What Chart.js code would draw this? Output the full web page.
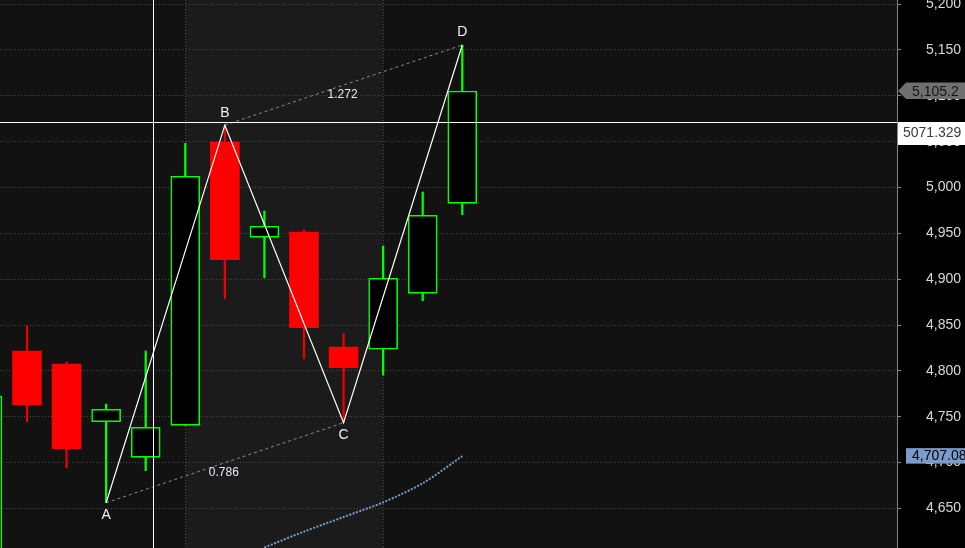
<!DOCTYPE html>
<html><head><meta charset="utf-8">
<script src="https://cdn.jsdelivr.net/npm/chart.js@4.4.0/dist/chart.umd.min.js"></script>
<style>html,body{margin:0;padding:0;background:#000;overflow:hidden}#wrap{width:965px;height:548px;position:relative}</style>
</head><body><div id="wrap"><canvas id="c" width="965" height="548"></canvas></div>
<script>
// ---- data ----
const candleIndex = [0, 1, 2, 3, 4, 5, 6, 7, 8, 9, 10, 11, 12];
const opens  = [4580, 4821.7, 4807.5, 4744.6, 4705.8, 4740.7, 5049.6, 4945.7, 4951.5, 4826.0, 4823.6, 4884.6, 4982.8];
const highs  = [4780, 4849.0, 4809.7, 4763.9, 4821.7, 5048.2, 5068.0, 4974.4, 4953.7, 4840.6, 4936.2, 4995.1, 5155.4];
const lows   = [4570, 4744.6, 4694.4, 4656.3, 4691.2, 4740.7, 4878.7, 4901.6, 4813.3, 4743.5, 4795.5, 4876.6, 4970.3];
const closes = [4772.6, 4762.8, 4715.2, 4758.1, 4738.5, 5012.2, 4921.3, 4957.7, 4847.1, 4803.5, 4901.0, 4969.7, 5105.2];

const patternLetters = ['A', 'B', 'C', 'D'];
const patternIndex   = [3, 6, 9, 12];
const patternPrice   = [4656.3, 5068.0, 4743.5, 5155.4];
const ratioLabels    = ['0.786', '1.272'];

const maIndex  = [7, 8, 9, 10, 11, 12];
const maValues = [4607.5, 4624.8, 4640.7, 4656.7, 4677.5, 4707.08];

const priceTicks = [4650, 4700, 4750, 4800, 4850, 4900, 4950, 5000, 5050, 5100, 5150, 5200];
const lastPrice = 5105.2;
const maLast = 4707.08;
const crossIndex = 4.18;
const crossPrice = 5071.329;
const sessionBand = [5, 10];

// ---- styles ----
const GREEN = '#00ff00', RED = '#ff0000';
const FONT = '"Liberation Sans", Arial, sans-serif';

const up = candleIndex.map(i => closes[i] >= opens[i]);

const wickData = candleIndex.map(i => ({x: i, y: [lows[i], highs[i]]}));
const bodyData = candleIndex.map(i => ({x: i, y: [opens[i], closes[i]]}));
const patternData = patternIndex.map((x, k) => ({x, y: patternPrice[k]}));
const acData = [patternData[0], patternData[2]];
const bdData = [patternData[1], patternData[3]];
const maData = maIndex.map((x, k) => ({x, y: maValues[k]}));

const fmt = v => Number(v).toLocaleString('en-US');

const bgPlugin = {
  id: 'bg',
  beforeDraw(chart) {
    const {ctx, chartArea: a, scales: {x}} = chart;
    ctx.save();
    ctx.fillStyle = '#000';
    ctx.fillRect(0, 0, chart.width, chart.height);
    ctx.fillStyle = '#121212';
    ctx.fillRect(a.left, a.top, a.right - a.left, a.bottom - a.top);
    const x0 = x.getPixelForValue(sessionBand[0]), x1 = x.getPixelForValue(sessionBand[1]);
    ctx.fillStyle = '#1b1b1b';
    ctx.fillRect(x0, a.top, x1 - x0, a.bottom - a.top);
    ctx.restore();
  },
  beforeDatasetsDraw(chart) {
    const {ctx, chartArea: a, scales: {x}} = chart;
    ctx.save();
    ctx.strokeStyle = '#4a4a4a';
    ctx.lineWidth = 1;
    ctx.setLineDash([1, 2]);
    sessionBand.forEach(v => {
      const px = Math.round(x.getPixelForValue(v)) + 0.5;
      ctx.beginPath(); ctx.moveTo(px, a.top); ctx.lineTo(px, a.bottom); ctx.stroke();
    });
    ctx.restore();
  },
  afterDatasetsDraw(chart) {
    const {ctx, chartArea: a, scales: {x, y}} = chart;
    ctx.save();
    // crosshair
    ctx.strokeStyle = '#ffffff';
    ctx.lineWidth = 1;
    const cx = Math.round(x.getPixelForValue(crossIndex)) + 0.5;
    const cy = Math.round(y.getPixelForValue(crossPrice)) + 0.5;
    ctx.beginPath(); ctx.moveTo(cx, a.top); ctx.lineTo(cx, a.bottom); ctx.stroke();
    ctx.beginPath(); ctx.moveTo(a.left, cy); ctx.lineTo(a.right, cy); ctx.stroke();
    // letters
    ctx.font = '14px ' + FONT;
    ctx.textAlign = 'center';
    ctx.textBaseline = 'middle';
    ctx.fillStyle = '#eef2f8';
    patternData.forEach((p, k) => {
      const px = x.getPixelForValue(p.x), py = y.getPixelForValue(p.y);
      const dir = (k % 2 === 0) ? 1 : -1;
      ctx.fillText(patternLetters[k], px, py + dir * 12.5);
    });
    // ratio labels
    ctx.font = '12px ' + FONT;
    ctx.fillStyle = '#e4ecf4';
    [[acData, ratioLabels[0]], [bdData, ratioLabels[1]]].forEach(([seg, t]) => {
      const mx = (x.getPixelForValue(seg[0].x) + x.getPixelForValue(seg[1].x)) / 2;
      const my = (y.getPixelForValue(seg[0].y) + y.getPixelForValue(seg[1].y)) / 2;
      ctx.fillText(t, mx - 1, my + 10);
    });
    ctx.restore();
  },
  afterDraw(chart) {
    const {ctx, chartArea: a, scales: {y}} = chart;
    const L = a.right + 1, R = chart.width;
    ctx.save();
    ctx.font = '14px ' + FONT;
    ctx.textBaseline = 'middle';
    ctx.textAlign = 'left';
    // last price tag (gray with arrow)
    let py = y.getPixelForValue(lastPrice);
    ctx.fillStyle = '#707070';
    ctx.beginPath();
    ctx.moveTo(L, py); ctx.lineTo(L + 8, py - 8.5); ctx.lineTo(R, py - 8.5);
    ctx.lineTo(R, py + 8); ctx.lineTo(L + 8, py + 8); ctx.closePath(); ctx.fill();
    ctx.fillStyle = '#151515';
    ctx.fillText(lastPrice.toLocaleString('en-US', {minimumFractionDigits: 1}), L + 14, py + 1);
    // crosshair tag (white)
    const cy = Math.round(y.getPixelForValue(crossPrice));
    ctx.fillStyle = '#ffffff';
    ctx.fillRect(L, cy, R - L, 23);
    ctx.fillStyle = '#3c3c3c';
    ctx.fillText(String(crossPrice), L + 5, cy + 11.5);
    // MA tag
    py = y.getPixelForValue(maLast);
    ctx.fillStyle = '#7b9bcb';
    ctx.fillRect(L + 8, py - 8, R - L - 8, 15.5);
    ctx.fillStyle = '#000';
    ctx.fillText(maLast.toLocaleString('en-US', {minimumFractionDigits: 2}), L + 14, py + 0.5);
    ctx.restore();
  }
};

new Chart(document.getElementById('c'), {
  type: 'bar',
  data: {
    datasets: [
      {
        type: 'line', data: patternData, borderColor: '#ffffff', borderWidth: 1.2,
        pointRadius: 0, fill: false, tension: 0, order: 1
      },
      {
        type: 'line', data: acData, borderColor: '#8c8c8c', borderWidth: 1, borderDash: [3, 3],
        pointRadius: 0, fill: false, order: 2
      },
      {
        type: 'line', data: bdData, borderColor: '#8c8c8c', borderWidth: 1, borderDash: [3, 3],
        pointRadius: 0, fill: false, order: 2
      },
      {
        type: 'line', data: maData, borderColor: '#7b9bcb', borderWidth: 2, borderDash: [2, 1.5],
        pointRadius: 0, fill: false, tension: 0.3, order: 3
      },
      {
        type: 'bar', data: bodyData, grouped: false, barThickness: 29,
        backgroundColor: candleIndex.map(i => up[i] ? '#000000' : RED),
        borderColor: candleIndex.map(i => up[i] ? GREEN : RED),
        borderWidth: candleIndex.map(i => up[i] ? 1.6 : 0),
        borderSkipped: false, order: 4
      },
      {
        type: 'bar', data: wickData, grouped: false, barThickness: 1.6,
        backgroundColor: candleIndex.map(i => up[i] ? GREEN : '#ee0000'),
        borderWidth: 0, order: 5
      }
    ]
  },
  options: {
    responsive: false, animation: false, devicePixelRatio: 1,
    layout: {padding: 0},
    plugins: {legend: {display: false}, tooltip: {enabled: false}},
    scales: {
      x: {type: 'linear', display: false, min: 0.3177, max: 22.986, offset: false},
      y: {
        position: 'right', min: 4606.9, max: 5204.5,
        afterBuildTicks: s => { s.ticks = priceTicks.map(v => ({value: v})); },
        afterFit: s => { s.width = 68; s.paddingTop = 0; s.paddingBottom = 0; },
        grid: {color: '#4a4a4a', lineWidth: 1, drawTicks: true, tickLength: 4, tickColor: '#8a8a8a', tickBorderDash: []},
        border: {display: true, color: '#8a8a8a', width: 1, dash: [1, 2]},
        ticks: {color: '#d8d8d8', font: {family: FONT, size: 14}, padding: 25, callback: v => fmt(v)}
      }
    }
  },
  plugins: [bgPlugin]
});
</script>
</body></html>
